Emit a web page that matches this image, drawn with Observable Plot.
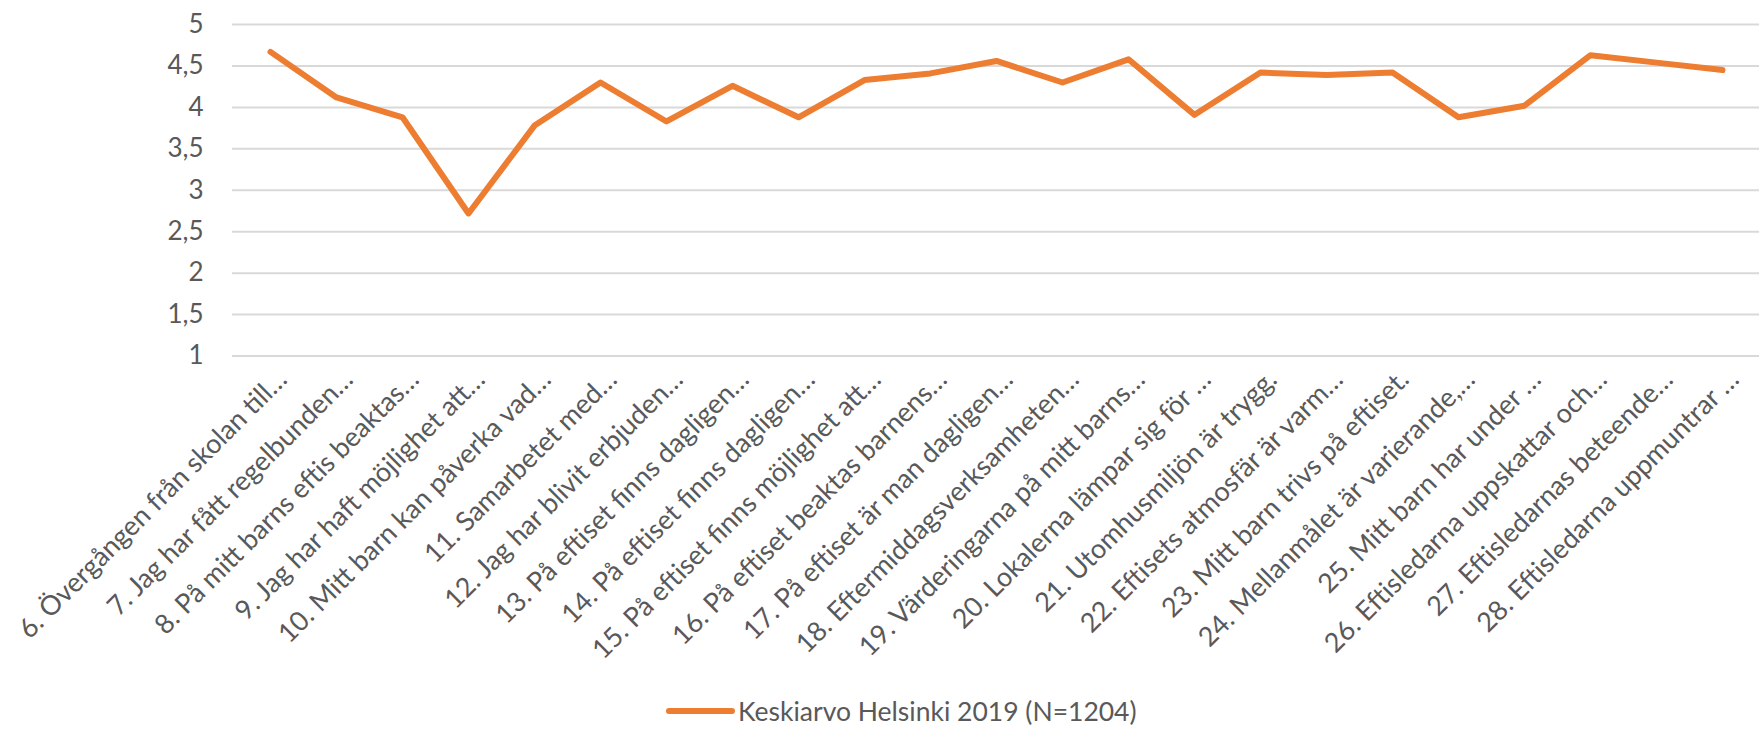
<!DOCTYPE html>
<html>
<head>
<meta charset="utf-8">
<script src="https://cdn.jsdelivr.net/npm/d3@7"></script>
<script src="https://cdn.jsdelivr.net/npm/@observablehq/plot@0.6"></script>
<style>
  html, body { margin: 0; padding: 0; background: #fff; }
  body { font-family: Lato, "Open Sans", sans-serif; width: 1759px; height: 729px; overflow: hidden; }
  #legend { height: 37px; display: flex; align-items: center; padding-left: 666px; color: #595959; font-size: 26.5px; }
  #legend .sw { display: inline-block; width: 69px; height: 6px; background: #ED7D31; border-radius: 3px; margin-right: 3px; }
</style>
</head>
<body>
<div id="chart"></div>
<div id="legend"><span class="sw"></span><span id="legtext"></span></div>
<script>
const questionNo = [6, 7, 8, 9, 10, 11, 12, 13, 14, 15, 16, 17, 18, 19, 20, 21, 22, 23, 24, 25, 26, 27, 28];
const questionLabels = [
  "6. Övergången från skolan till…",
  "7. Jag har fått regelbunden…",
  "8. På mitt barns eftis beaktas…",
  "9. Jag har haft möjlighet att…",
  "10. Mitt barn kan påverka vad…",
  "11. Samarbetet med…",
  "12. Jag har blivit erbjuden…",
  "13. På eftiset finns dagligen…",
  "14. På eftiset finns dagligen…",
  "15. På eftiset finns möjlighet att…",
  "16. På eftiset beaktas barnens…",
  "17. På eftiset är man dagligen…",
  "18. Eftermiddagsverksamheten…",
  "19. Värderingarna på mitt barns…",
  "20. Lokalerna lämpar sig för …",
  "21. Utomhusmiljön är trygg.",
  "22. Eftisets atmosfär är varm…",
  "23. Mitt barn trivs på eftiset.",
  "24. Mellanmålet är varierande,…",
  "25. Mitt barn har under …",
  "26. Eftisledarna uppskattar och…",
  "27. Eftisledarnas beteende…",
  "28. Eftisledarna uppmuntrar …"
];
const meanValues = [4.67, 4.12, 3.88, 2.72, 3.78, 4.30, 3.83, 4.26, 3.88, 4.33, 4.41, 4.56, 4.30, 4.58, 3.91, 4.42, 4.39, 4.42, 3.88, 4.02, 4.63, 4.54, 4.45];
const yTicks = [1, 1.5, 2, 2.5, 3, 3.5, 4, 4.5, 5];
const seriesName = "Keskiarvo Helsinki 2019 (N=1204)";

const rows = questionNo.map((q, i) => ({ q, label: questionLabels[i], value: meanValues[i] }));
const labelOf = new Map(rows.map(r => [r.q, r.label]));

const chart = Plot.plot({
  width: 1759,
  height: 692,
  marginTop: 24,
  marginBottom: 336.5,
  marginLeft: 232,
  marginRight: 0,
  style: { fontFamily: "Lato, 'Open Sans', sans-serif", color: "#595959", background: "#fff" },
  x: { type: "point", domain: questionNo, padding: 0.5 },
  y: { domain: [1, 5] },
  marks: [
    Plot.ruleY(yTicks, { stroke: "#d9d9d9", strokeWidth: 2 }),
    Plot.axisY({ ticks: yTicks, tickSize: 0, tickPadding: 29, tickFormat: d => String(d).replace(".", ","), fontSize: 26, fill: "#595959", label: null }),
    Plot.axisX({ tickSize: 0, tickPadding: 0, tickRotate: -45, tickFormat: q => labelOf.get(q), fontSize: 27, fill: "#595959", label: null, dx: 12, dy: 19 }),
    Plot.line(rows, { x: "q", y: "value", stroke: "#ED7D31", strokeWidth: 6, strokeLinecap: "round", strokeLinejoin: "round" })
  ]
});
document.getElementById("chart").appendChild(chart);
document.getElementById("legtext").textContent = seriesName;
</script>
</body>
</html>
